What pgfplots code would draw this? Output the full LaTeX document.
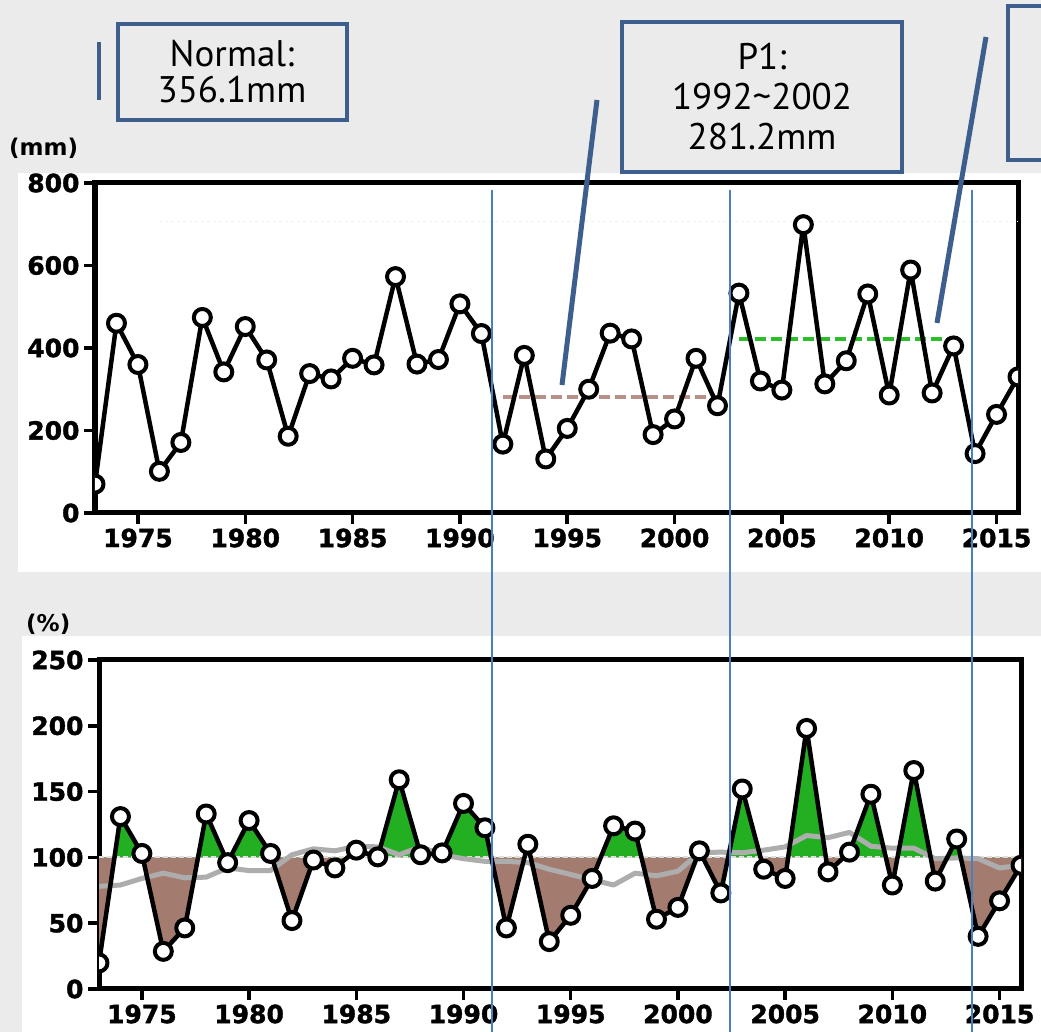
\documentclass[border=0pt]{standalone}
\usepackage{fontspec}
\setmainfont{DejaVu Sans}
\newfontfamily\boxfont{PT Sans}
\newfontfamily\tickfont[FakeBold=1.5]{DejaVu Sans Bold}
\usepackage{pgfplots}
\usepackage{pgfplotstable}
\pgfplotsset{compat=1.18}
\definecolor{bg}{HTML}{EBEBEB}
\definecolor{boxblue}{HTML}{3E5F8E}
\definecolor{vblue}{HTML}{4A7FC1}
\definecolor{fgreen}{HTML}{22B022}
\definecolor{fbrown}{HTML}{A47B6F}
\definecolor{pbrown}{HTML}{B89088}
\definecolor{pgreen}{HTML}{2BC02B}
\definecolor{smoothgray}{HTML}{ADADAD}

\pgfplotstableread{
year mm pct sm
1973 70 19.8 78
1974 460 131 79
1975 360 103 84
1976 101 28.6 88
1977 171 46.4 84.5
1978 474 133 85
1979 342 96 92
1980 452 128 90
1981 371 103 90
1982 186 52 102
1983 338 98 106.5
1984 325 92 105
1985 375 105.5 108.5
1986 359 100.4 108
1987 573 159 102
1988 361 102 108
1989 372 103.4 102
1990 507 141 99
1991 435 122.5 97
1992 167 46.4 97
1993 382 110 96
1994 131 36 91
1995 205 56 87
1996 300 84 83
1997 436 124 79
1998 422 120 88
1999 190 53 86
2000 228 62 89.5
2001 375 105 103.5
2002 260 73 104
2003 533 152 103.5
2004 320 91 105.5
2005 298 84 108
2006 699 198 116.6
2007 313 89 115
2008 369 104 119
2009 531 148 108.5
2010 286 79 107
2011 589 166 107
2012 291 82 99
2013 405 114 99.6
2014 144 40 99
2015 239 67 92
2016 330 94 94
}\data

\pgfplotsset{myaxis/.style={
  scale only axis, anchor=south west, xmin=1973, xmax=2016,
  axis line style={line width=5pt, black},
  xtick={1975,1980,...,2015}, tick align=outside, tick pos=left,
  major tick length=11pt, tick style={line width=3.5pt, black},
  /pgf/number format/1000 sep={}, /pgf/number format/assume math mode=true,
  ticklabel style={font=\tickfont\fontsize{25}{25}\selectfont},
  xticklabel style={yshift=-1pt},
  yticklabel style={xshift=-1pt},
  clip marker paths=true,
  axis background/.style={fill=white},
}}
\pgfplotsset{dataline/.style={black, line width=4.5pt, line join=round, mark=*, mark size=8.5pt,
  mark options={fill=white, draw=black, line width=4pt}}}

\begin{document}
\begin{tikzpicture}
\clip (0pt,0pt) rectangle (1041pt,1032pt);
\fill[bg] (0pt,0pt) rectangle (1041pt,1032pt);
\fill[white] (18pt,460pt) rectangle (1041pt,859pt);
\fill[white] (22pt,0pt) rectangle (1041pt,396pt);

% top axis
\begin{axis}[myaxis, at={(95pt,519pt)}, width=923pt, height=330pt,
  ymin=0, ymax=800, ytick={0,200,...,800}]
\addplot[gray!12, dashed, line width=1.5pt] coordinates {(1976,707) (2016,707)};
\addplot[pbrown, dash pattern=on 11pt off 5pt, line width=4pt] coordinates {(1992,281.2) (2002,281.2)};
\addplot[pgreen, dash pattern=on 11pt off 5pt, line width=4pt] coordinates {(2003,421) (2013,421)};
\addplot[dataline] table[x=year, y=mm] {\data};
\end{axis}

% bottom axis
\begin{axis}[myaxis, at={(99pt,43pt)}, width=922pt, height=329pt,
  ymin=0, ymax=250, ytick={0,50,...,250}]
\begin{scope}
\clip (axis cs:1960,100) rectangle (axis cs:2030,300);
\addplot[fill=fgreen, draw=none] table[x=year, y=pct] {\data} -- (axis cs:2016,100) -- (axis cs:1973,100) -- cycle;
\end{scope}
\begin{scope}
\clip (axis cs:1960,-10) rectangle (axis cs:2030,100);
\addplot[fill=fbrown, draw=none] table[x=year, y=pct] {\data} -- (axis cs:2016,100) -- (axis cs:1973,100) -- cycle;
\end{scope}
\addplot[white!75!gray, dash pattern=on 5pt off 3pt, line width=2pt] coordinates {(1973,100) (2016,100)};
\addplot[smoothgray, line width=5pt, line join=round] table[x=year, y=sm] {\data};
\addplot[dataline] table[x=year, y=pct] {\data};
\end{axis}

% unit labels
\node[anchor=base west, font=\bfseries\fontsize{23}{23}\selectfont, inner sep=0pt] at (9pt,876pt) {(mm)};
\node[anchor=base west, font=\bfseries\fontsize{23}{23}\selectfont, inner sep=0pt] at (26pt,400pt) {(\%)};

% vertical lines
\foreach \xx in {492,730,972} {
  \draw[vblue, line width=1.5pt] (\xx pt,842pt) -- (\xx pt,0pt);
}

% annotation boxes
\draw[boxblue, line width=4pt] (99pt,932pt) -- (99pt,990pt);
\draw[boxblue, line width=4pt, fill=bg] (118pt,912pt) rectangle (347pt,1008pt);
\node[align=center, font=\boxfont\fontsize{37}{36}\selectfont, text=black] at (232pt,960pt) {Normal:\\356.1mm};

\draw[boxblue, line width=5pt] (597pt,932pt) -- (562pt,647pt);
\draw[boxblue, line width=4pt, fill=bg] (622pt,860pt) rectangle (902pt,1010pt);
\node[align=center, font=\boxfont\fontsize{37}{40}\selectfont, text=black] at (762pt,935pt) {P1:\\1992\textasciitilde2002\\281.2mm};

\draw[boxblue, line width=5pt] (986pt,995pt) -- (937pt,709pt);
\draw[boxblue, line width=4pt, fill=bg] (1008pt,872pt) rectangle (1100pt,1026pt);
\end{tikzpicture}
\end{document}
